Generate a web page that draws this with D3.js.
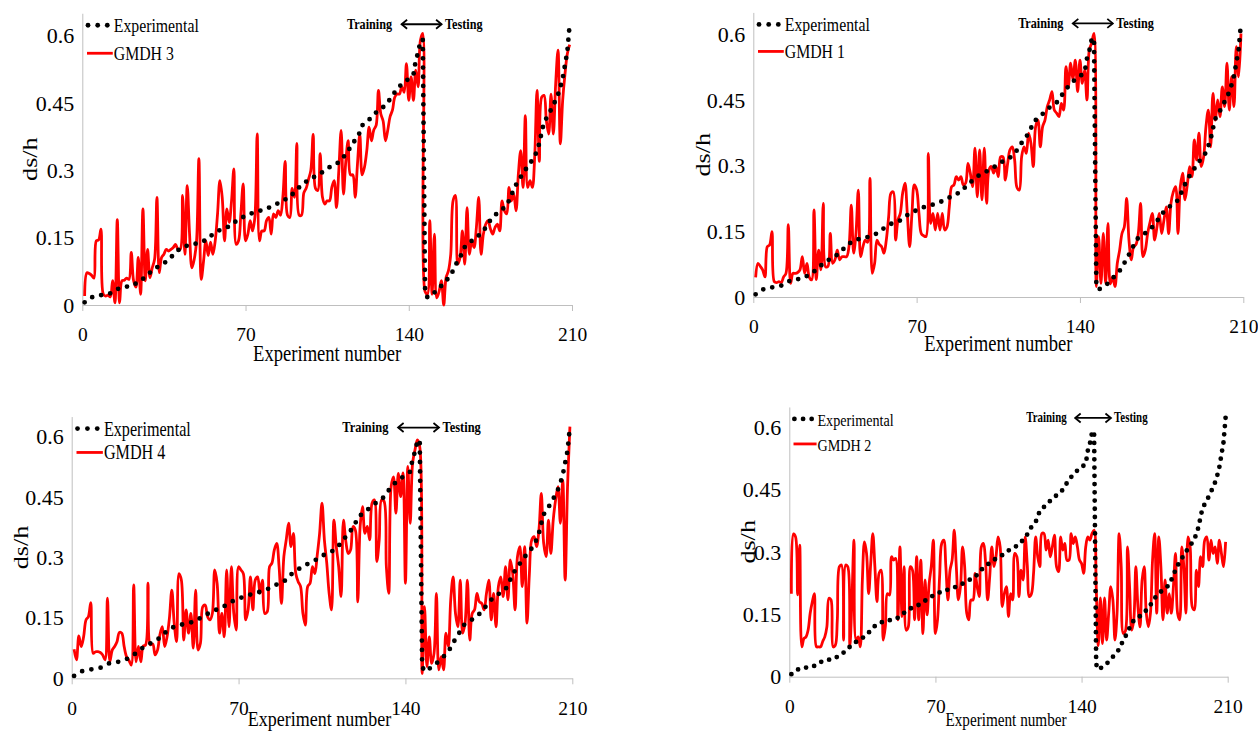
<!DOCTYPE html>
<html><head><meta charset="utf-8">
<script src="https://cdn.jsdelivr.net/npm/d3@7"></script>
<style>
body{margin:0;background:#fff}
svg{display:block}
text{font-family:"Liberation Serif","Times New Roman",serif;fill:#000}
</style>
</head><body>
<svg id="chart" width="1258" height="731"></svg>
<script>
// ---------------- DATA ----------------
const xTickValues = [0, 70, 140, 210];
const yTickValues = [0, 0.15, 0.3, 0.45, 0.6];
const splitLabels = ["Training", "Testing"];
const xTitle = "Experiment number";
const yTitle = "ds/h";
const expName = "Experimental";

// experimental ds/h, experiments 1..146 (training)
const experimentalTraining = [
 0.006,0.010,0.014,0.017,0.019,0.020,0.021,0.022,0.023,0.024,
 0.025,0.026,0.029,0.032,0.035,0.038,0.039,0.040,0.041,0.041,
 0.043,0.045,0.048,0.050,0.054,0.058,0.063,0.068,0.072,0.077,
 0.080,0.084,0.087,0.090,0.093,0.097,0.100,0.106,0.112,0.118,
 0.122,0.125,0.128,0.131,0.132,0.133,0.135,0.136,0.137,0.139,
 0.140,0.142,0.146,0.150,0.154,0.157,0.160,0.164,0.167,0.169,
 0.171,0.173,0.175,0.179,0.183,0.187,0.190,0.193,0.196,0.198,
 0.200,0.203,0.205,0.207,0.208,0.210,0.211,0.213,0.215,0.217,
 0.219,0.221,0.224,0.227,0.230,0.233,0.235,0.238,0.240,0.246,
 0.252,0.258,0.262,0.266,0.270,0.275,0.279,0.282,0.284,0.287,
 0.290,0.293,0.296,0.300,0.304,0.307,0.310,0.313,0.315,0.318,
 0.324,0.330,0.335,0.343,0.352,0.361,0.367,0.373,0.385,0.400,
 0.404,0.409,0.413,0.418,0.424,0.429,0.433,0.437,0.441,0.444,
 0.451,0.459,0.467,0.474,0.481,0.487,0.492,0.497,0.500,0.504,
 0.509,0.513,0.545,0.562,0.588,0.592
];
// experimental ds/h, experiments 147..209 (testing)
const experimentalTesting = [
 0.030,0.017,0.020,0.024,0.028,0.031,0.037,0.043,0.048,0.054,
 0.060,0.066,0.077,0.089,0.097,0.106,0.118,0.129,0.135,0.139,
 0.143,0.146,0.149,0.155,0.160,0.165,0.173,0.181,0.189,0.195,
 0.200,0.205,0.209,0.213,0.217,0.221,0.233,0.245,0.257,0.268,
 0.277,0.285,0.293,0.301,0.309,0.316,0.323,0.330,0.345,0.360,
 0.385,0.407,0.416,0.425,0.435,0.446,0.456,0.469,0.485,0.505,
 0.535,0.565,0.625
];

const gmdh3 = [
 0.020,0.072,0.070,0.066,0.060,0.143,0.145,0.169,0.024,0.020,
 0.022,0.018,0.054,0.005,0.190,0.005,0.054,0.055,0.060,0.057,
 0.117,0.054,0.040,0.106,0.024,0.214,0.054,0.124,0.061,0.083,
 0.102,0.240,0.072,0.106,0.113,0.124,0.120,0.124,0.128,0.135,
 0.124,0.124,0.244,0.113,0.266,0.158,0.083,0.102,0.143,0.326,
 0.057,0.098,0.143,0.110,0.140,0.113,0.143,0.203,0.277,0.240,
 0.143,0.214,0.184,0.232,0.303,0.135,0.143,0.203,0.270,0.143,
 0.158,0.188,0.165,0.195,0.381,0.143,0.165,0.165,0.188,0.195,
 0.158,0.203,0.195,0.210,0.200,0.240,0.320,0.200,0.195,0.260,
 0.240,0.360,0.200,0.200,0.250,0.260,0.280,0.300,0.380,0.260,
 0.255,0.337,0.240,0.225,0.232,0.232,0.262,0.277,0.217,0.300,
 0.389,0.247,0.320,0.366,0.290,0.290,0.240,0.314,0.380,0.290,
 0.307,0.344,0.396,0.366,0.390,0.400,0.478,0.426,0.410,0.366,
 0.390,0.420,0.434,0.463,0.470,0.470,0.486,0.474,0.538,0.456,
 0.508,0.456,0.523,0.486,0.590,0.605,
 0.030,0.024,0.188,0.024,0.158,0.016,0.030,0.054,0.000,0.061,
 0.076,0.113,0.232,0.244,0.091,0.106,0.165,0.091,0.217,0.113,
 0.143,0.128,0.173,0.240,0.113,0.158,0.180,0.188,0.170,0.158,
 0.173,0.180,0.165,0.232,0.210,0.203,0.262,0.232,0.247,0.210,
 0.292,0.344,0.262,0.422,0.262,0.277,0.262,0.330,0.478,0.320,
 0.463,0.467,0.411,0.381,0.470,0.381,0.493,0.568,0.359,0.456,
 0.515,0.560,0.580
];

const gmdh1 = [
 0.045,0.077,0.070,0.062,0.046,0.115,0.119,0.149,0.035,0.033,
 0.035,0.033,0.046,0.054,0.165,0.031,0.054,0.054,0.056,0.062,
 0.092,0.054,0.077,0.045,0.039,0.199,0.040,0.107,0.062,0.214,
 0.069,0.070,0.145,0.077,0.085,0.107,0.085,0.092,0.092,0.092,
 0.115,0.210,0.100,0.145,0.244,0.092,0.115,0.130,0.125,0.271,
 0.054,0.077,0.130,0.120,0.115,0.100,0.130,0.183,0.237,0.240,
 0.130,0.176,0.191,0.237,0.260,0.191,0.115,0.191,0.256,0.245,
 0.191,0.145,0.140,0.138,0.328,0.168,0.191,0.153,0.191,0.153,
 0.191,0.153,0.160,0.206,0.252,0.256,0.275,0.267,0.275,0.256,
 0.260,0.305,0.283,0.252,0.340,0.229,0.336,0.222,0.340,0.214,
 0.290,0.298,0.283,0.298,0.275,0.320,0.320,0.267,0.305,0.336,
 0.343,0.313,0.250,0.244,0.320,0.343,0.328,0.374,0.351,0.298,
 0.389,0.404,0.343,0.389,0.404,0.435,0.450,0.469,0.427,0.420,
 0.412,0.442,0.427,0.526,0.480,0.534,0.496,0.541,0.469,0.541,
 0.488,0.518,0.450,0.564,0.580,0.602,
 0.024,0.138,0.031,0.145,0.031,0.168,0.030,0.046,0.024,0.077,
 0.107,0.145,0.160,0.225,0.130,0.085,0.115,0.120,0.145,0.214,
 0.092,0.107,0.145,0.170,0.191,0.130,0.160,0.191,0.145,0.176,
 0.206,0.145,0.214,0.240,0.252,0.145,0.252,0.283,0.222,0.256,
 0.298,0.275,0.359,0.313,0.374,0.298,0.320,0.389,0.427,0.343,
 0.465,0.404,0.450,0.412,0.480,0.435,0.534,0.427,0.503,0.435,
 0.572,0.503,0.602
];

const gmdh4 = [
 0.072,0.046,0.105,0.079,0.103,0.145,0.153,0.188,0.062,0.066,
 0.066,0.064,0.058,0.046,0.199,0.041,0.070,0.079,0.091,0.114,
 0.112,0.079,0.054,0.045,0.033,0.232,0.041,0.079,0.041,0.080,
 0.083,0.236,0.083,0.085,0.058,0.070,0.108,0.128,0.079,0.103,
 0.150,0.219,0.137,0.091,0.260,0.244,0.095,0.170,0.112,0.161,
 0.075,0.219,0.070,0.087,0.178,0.182,0.153,0.145,0.161,0.269,
 0.236,0.112,0.161,0.103,0.269,0.128,0.277,0.161,0.120,0.277,
 0.269,0.260,0.145,0.170,0.252,0.170,0.244,0.252,0.211,0.244,
 0.161,0.165,0.277,0.286,0.319,0.335,0.277,0.186,0.302,0.344,
 0.385,0.327,0.360,0.260,0.240,0.228,0.161,0.132,0.228,0.236,
 0.277,0.260,0.306,0.360,0.435,0.344,0.286,0.211,0.170,0.393,
 0.327,0.277,0.203,0.393,0.340,0.310,0.319,0.377,0.368,0.190,
 0.377,0.426,0.360,0.377,0.344,0.435,0.443,0.290,0.344,0.443,
 0.440,0.277,0.211,0.476,0.500,0.410,0.509,0.451,0.510,0.236,
 0.526,0.385,0.534,0.567,0.592,0.575,
 0.012,0.178,0.029,0.103,0.037,0.062,0.211,0.021,0.054,0.021,
 0.112,0.079,0.195,0.252,0.161,0.128,0.244,0.112,0.137,0.244,
 0.095,0.161,0.170,0.211,0.190,0.186,0.170,0.211,0.244,0.145,
 0.211,0.128,0.228,0.252,0.203,0.277,0.195,0.294,0.260,0.170,
 0.302,0.327,0.228,0.327,0.137,0.260,0.344,0.352,0.327,0.368,
 0.459,0.335,0.302,0.393,0.310,0.393,0.443,0.476,0.385,0.492,
 0.244,0.476,0.625
];

const gmdh2 = [
 0.200,0.344,0.337,0.197,0.317,0.072,0.092,0.096,0.112,0.153,
 0.180,0.200,0.072,0.072,0.072,0.085,0.096,0.120,0.189,0.185,
 0.072,0.075,0.137,0.265,0.269,0.088,0.269,0.265,0.072,0.185,
 0.329,0.088,0.096,0.072,0.233,0.325,0.297,0.200,0.273,0.345,
 0.265,0.181,0.249,0.257,0.088,0.120,0.200,0.197,0.289,0.281,
 0.285,0.137,0.313,0.145,0.265,0.112,0.120,0.265,0.257,0.137,
 0.289,0.137,0.281,0.104,0.233,0.149,0.225,0.265,0.329,0.104,
 0.137,0.241,0.321,0.329,0.265,0.185,0.257,0.281,0.353,0.265,
 0.185,0.217,0.313,0.265,0.153,0.137,0.185,0.185,0.249,0.217,
 0.193,0.313,0.321,0.277,0.185,0.241,0.313,0.265,0.289,0.337,
 0.313,0.169,0.200,0.217,0.145,0.200,0.185,0.297,0.289,0.193,
 0.257,0.233,0.337,0.269,0.193,0.200,0.249,0.337,0.289,0.265,
 0.345,0.345,0.305,0.329,0.289,0.313,0.341,0.265,0.253,0.337,
 0.305,0.321,0.281,0.281,0.345,0.321,0.337,0.313,0.281,0.273,
 0.249,0.313,0.337,0.329,0.345,0.353,
 0.220,0.075,0.190,0.080,0.190,0.088,0.153,0.217,0.185,0.088,
 0.153,0.345,0.265,0.104,0.110,0.313,0.217,0.112,0.137,0.265,
 0.169,0.120,0.233,0.265,0.153,0.120,0.153,0.281,0.345,0.153,
 0.337,0.265,0.137,0.233,0.153,0.200,0.153,0.217,0.297,0.153,
 0.137,0.313,0.265,0.153,0.337,0.313,0.169,0.161,0.257,0.217,
 0.289,0.265,0.329,0.337,0.281,0.329,0.297,0.313,0.273,0.329,
 0.297,0.265,0.325
];

// ---------------- LAYOUT ----------------
const experimental = experimentalTraining.concat(experimentalTesting);
const panels = [
  {model: "GMDH 3", values: gmdh3, x0: 82.3,  x1: 572,    yZero: 305,   ySix: 35.7,  yTitleDx: -45.6, xTitleY: 360.5, xTitleSize: 18.6, xTitleDx: 0,    xTitleK: 1.25},
  {model: "GMDH 1", values: gmdh1, x0: 753.3, x1: 1243.3, yZero: 297,   ySix: 34.3,  yTitleDx: -43.3, xTitleY: 351,   xTitleSize: 18.6, xTitleDx: 0,    xTitleK: 1.25},
  {model: "GMDH 4", values: gmdh4, x0: 71.7,  x1: 572.3,  yZero: 678.3, ySix: 436.7, yTitleDx: -43.4, xTitleY: 726,   xTitleSize: 17.6, xTitleDx: -2.5, xTitleK: 1.2},
  {model: "GMDH 2", values: gmdh2, x0: 789.3, x1: 1227.7, yZero: 676.7, ySix: 427.7, yTitleDx: -34.3, xTitleY: 726,   xTitleSize: 17.0, xTitleDx: -2.5, xTitleK: 1.25}
];
const stretch = 1.25;   // vertical stretch of the source figure's lettering

const svg = d3.select("#chart");
svg.append("rect").attr("width",1258).attr("height",731).attr("fill","#fff");
const axisColor = "#bfbfbf";

function stretchedText(g, x, y, str, size, anchor, bold, k) {
  return g.append("text")
    .attr("transform", `translate(${x},${y}) scale(1,${k || stretch})`)
    .attr("text-anchor", anchor || "start")
    .attr("font-weight", bold ? "bold" : null)
    .attr("font-size", size).text(str);
}

panels.forEach(p => {
  const g = svg.append("g");
  const sx = (p.x1 - p.x0) / 490;
  const sy = (p.yZero - p.ySix) / 269.3;
  const x = d3.scaleLinear().domain([0, 210]).range([p.x0, p.x1]);
  const y = d3.scaleLinear().domain([0, 0.6]).range([p.yZero, p.ySix]);
  const top = y(0.65);

  // y axis
  const ya = g.append("g").attr("transform", `translate(${p.x0},0)`)
    .call(d3.axisLeft(y.copy().domain([0, 0.65]).range([p.yZero, top]))
      .tickValues(yTickValues).tickSize(0).tickPadding(8).tickFormat(d => String(d)));
  ya.select(".domain").attr("stroke", axisColor);
  ya.selectAll("text").attr("font-size", 22).attr("font-family", "Liberation Serif").attr("fill", "#000");

  // x axis
  const xa = g.append("g").attr("transform", `translate(0,${p.yZero})`)
    .call(d3.axisBottom(x).tickValues(xTickValues).tickSize(6).tickSizeOuter(0).tickPadding(16.5).tickFormat(d => String(d)));
  xa.select(".domain").attr("stroke", axisColor);
  xa.selectAll(".tick line").attr("stroke", axisColor);
  xa.selectAll("text").attr("font-size", 19.5).attr("font-family", "Liberation Serif").attr("fill", "#000");

  // model line (smoothed)
  const smooth = d3.line().x((d, i) => x(i + 1)).y(d => y(d)).curve(d3.curveCatmullRom.alpha(0.5));
  g.append("path").datum(p.values).attr("d", smooth)
    .attr("fill", "none").attr("stroke", "#ff0000").attr("stroke-width", 2.8).attr("stroke-linejoin", "round");

  // experimental round-dot line
  const lin = d3.line().x((d, i) => x(i + 1)).y(d => y(d));
  g.append("path").datum(experimental).attr("d", lin)
    .attr("fill", "none").attr("stroke", "#000").attr("stroke-width", 4.8)
    .attr("stroke-linecap", "round").attr("stroke-dasharray", `0 ${9.2 * sx}`);

  // legend
  const ly1 = top + 12;
  [5.7, 15.4, 25].forEach(o => g.append("circle").attr("cx", p.x0 + o * sx).attr("cy", ly1).attr("r", 2.4).attr("fill", "#000"));
  stretchedText(g, p.x0 + 31.5 * sx, ly1 + 7, expName, 15.8 * sx);
  const ly2 = top + 40 * sy;
  g.append("line").attr("x1", p.x0 + 4.7 * sx).attr("x2", p.x0 + 30.5 * sx).attr("y1", ly2).attr("y2", ly2)
    .attr("stroke", "#ff0000").attr("stroke-width", 2.8);
  stretchedText(g, p.x0 + 31.5 * sx, ly2 + 6.8, p.model, 15.8 * sx);

  // training / testing marker
  const cx = x(145.5), ay = top + 11;
  stretchedText(g, cx - 29.5 * sx, ay + 4.5, splitLabels[0], 12.2 * sx, "end", true);
  stretchedText(g, cx + 23.5 * sx, ay + 4.5, splitLabels[1], 12.2 * sx, "start", true);
  const ax0 = cx - 20 * sx, ax1 = cx + 20 * sx;
  g.append("line").attr("x1", ax0).attr("x2", ax1).attr("y1", ay).attr("y2", ay).attr("stroke", "#000").attr("stroke-width", 1.8);
  g.append("path").attr("d", `M${ax0 + 5.5},${ay - 4.5}L${ax0},${ay}L${ax0 + 5.5},${ay + 4.5}M${ax1 - 5.5},${ay - 4.5}L${ax1},${ay}L${ax1 - 5.5},${ay + 4.5}`)
    .attr("fill", "none").attr("stroke", "#000").attr("stroke-width", 1.8);

  // axis titles
  stretchedText(g, x(105) + p.xTitleDx, p.xTitleY, xTitle, p.xTitleSize * sx, "middle", false, p.xTitleK);
  g.append("text").attr("transform", `translate(${p.x0 + p.yTitleDx},${(p.yZero + top) / 2}) rotate(-90) scale(${stretch * 0.95},1)`)
    .attr("text-anchor", "middle").attr("font-size", 22).text(yTitle);
});
</script>
</body></html>
